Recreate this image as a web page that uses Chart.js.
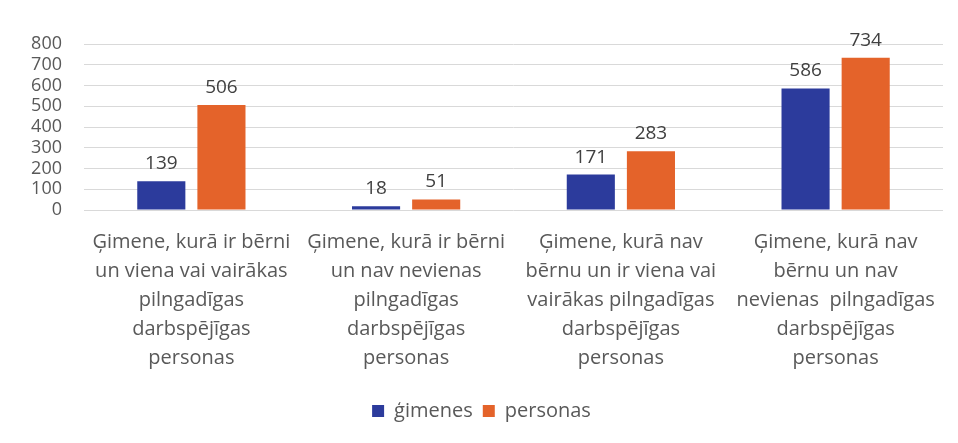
<!DOCTYPE html>
<html>
<head>
<meta charset="utf-8">
<script src="https://cdn.jsdelivr.net/npm/chart.js@4"></script>
<style>
  html, body { margin: 0; padding: 0; background: #ffffff; }
  #wrap { width: 958px; height: 443px; position: relative; }
</style>
</head>
<body>
<div id="wrap"><canvas id="c" width="958" height="443"></canvas></div>
<script>
const categories = [
  ["Ģimene, kurā ir bērni", "un viena vai vairākas", "pilngadīgas", "darbspējīgas", "personas"],
  ["Ģimene, kurā ir bērni", "un nav nevienas", "pilngadīgas", "darbspējīgas", "personas"],
  ["Ģimene, kurā nav", "bērnu un ir viena vai", "vairākas pilngadīgas", "darbspējīgas", "personas"],
  ["Ģimene, kurā nav", "bērnu un nav", "nevienas  pilngadīgas", "darbspējīgas", "personas"]
];
const seriesNames = ["ģimenes", "personas"];
const gimenes = [139, 18, 171, 586];
const personas = [506, 51, 283, 734];
const yTicks = [0, 100, 200, 300, 400, 500, 600, 700, 800];

const FONT = "'Open Sans', 'DejaVu Sans', sans-serif";

const valueLabels = {
  id: 'valueLabels',
  afterDatasetsDraw(chart) {
    const ctx = chart.ctx;
    ctx.save();
    ctx.font = "19px " + FONT;
    ctx.fillStyle = '#404040';
    ctx.textAlign = 'center';
    ctx.textBaseline = 'alphabetic';
    chart.data.datasets.forEach((ds, i) => {
      const meta = chart.getDatasetMeta(i);
      meta.data.forEach((bar, j) => {
        ctx.fillText(String(ds.data[j]), bar.x, bar.y - 12);
      });
    });
    ctx.restore();
  }
};

new Chart(document.getElementById('c'), {
  type: 'bar',
  data: {
    labels: categories,
    datasets: [
      { label: seriesNames[0], data: gimenes, backgroundColor: '#2c3b9c',
        barPercentage: 0.8, categoryPercentage: 0.56 },
      { label: seriesNames[1], data: personas, backgroundColor: '#e4632a',
        barPercentage: 0.8, categoryPercentage: 0.56 }
    ]
  },
  options: {
    responsive: false,
    animation: false,
    layout: { padding: { left: 20, right: 15, top: 44, bottom: 12 } },
    plugins: {
      legend: {
        position: 'bottom',
        labels: {
          font: { family: FONT, size: 20 },
          color: '#595959',
          boxWidth: 12, boxHeight: 12,
          padding: 10
        }
      },
      tooltip: { enabled: false }
    },
    scales: {
      x: {
        grid: { display: false, drawTicks: false },
        border: { display: false },
        ticks: {
          autoSkip: false, maxRotation: 0, minRotation: 0,
          color: '#595959',
          font: { family: FONT, size: 20, lineHeight: 1.45 },
          padding: 18
        },
        afterFit(scale) { scale.height = 181; }
      },
      y: {
        min: 0, max: 800,
        afterBuildTicks(scale) { scale.ticks = yTicks.map(v => ({ value: v })); },
        grid: { color: '#d9d9d9', drawTicks: false, lineWidth: 1 },
        border: { display: false },
        ticks: {
          autoSkip: false,
          color: '#595959',
          font: { family: FONT, size: 18, lineHeight: 1 },
          padding: 22
        },
        afterFit(scale) { scale.width = 64; }
      }
    }
  },
  plugins: [valueLabels]
});
</script>
</body>
</html>
